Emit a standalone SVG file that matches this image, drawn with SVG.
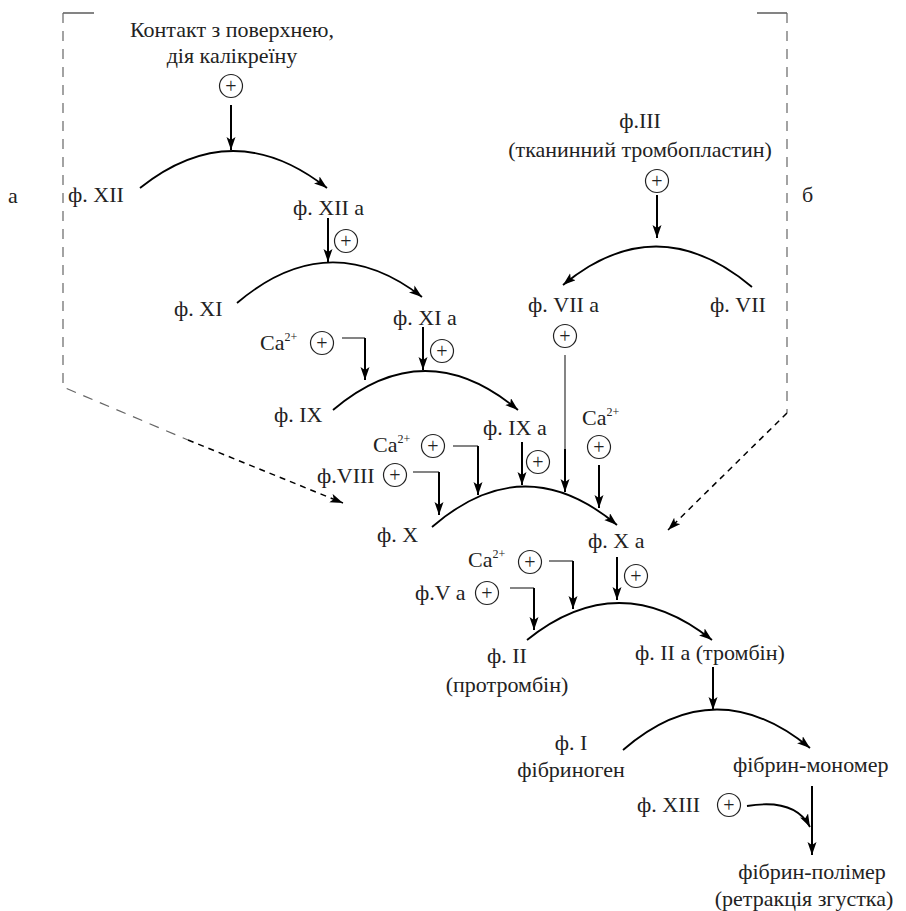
<svg xmlns="http://www.w3.org/2000/svg" width="906" height="911" viewBox="0 0 906 911">
<defs>
<marker id="ah" markerUnits="userSpaceOnUse" markerWidth="14" markerHeight="10" refX="13" refY="4.5" orient="auto">
<path d="M0,0 L13,4.5 L0,9 L3,4.5 z" fill="#000"/>
</marker>
</defs>
<style>
text{font-family:"Liberation Serif","Times New Roman",serif;font-size:22px;fill:#222}
.c{text-anchor:middle}
.sup{font-size:12px}
.pc circle{fill:none;stroke:#222;stroke-width:1.2}
.pc text{font-size:20px;text-anchor:middle}
.arc{fill:none;stroke:#000;stroke-width:1.8;marker-end:url(#ah)}
.ar{fill:none;stroke:#000;stroke-width:2;marker-end:url(#ah)}
.thin{fill:none;stroke:#333;stroke-width:1.2}
.dg{fill:none;stroke:#666;stroke-width:1.2;stroke-dasharray:10,8}
.db{fill:none;stroke:#000;stroke-width:1.5;stroke-dasharray:6,5}
</style>
<rect width="906" height="911" fill="#fff"/>

<g id="bracket-a">
<path d="M63,13 H94" class="thin"/>
<path d="M63,13 V387 L188,440" class="dg"/>
<text x="8" y="203">а</text>
</g>
<g id="bracket-b">
<path d="M757,13 H787" class="thin"/>
<path d="M787,13 V413" class="dg"/>
<text x="802" y="202">б</text>
</g>

<g id="n-contact">
<text class="c" x="232" y="37">Контакт з поверхнею,</text>
<text class="c" x="232" y="63">дія калікреїну</text>
<g class="pc"><circle cx="231" cy="86" r="11.5"/><text x="231" y="92.5">+</text></g>
</g>
<g id="n-XII"><text x="68" y="202">ф. XII</text></g>
<g id="n-XIIa"><text x="293" y="215">ф. XII а</text>
<g class="pc"><circle cx="346" cy="241" r="11.5"/><text x="346" y="247.5">+</text></g></g>
<g id="n-XI"><text x="174" y="316">ф. XI</text></g>
<g id="n-XIa"><text x="393" y="325">ф. XI а</text>
<g class="pc"><circle cx="442" cy="351" r="11.5"/><text x="442" y="357.5">+</text></g></g>
<g id="n-Ca1"><text x="260" y="350">Ca<tspan class="sup" dy="-9">2+</tspan></text>
<g class="pc"><circle cx="322" cy="343" r="11.5"/><text x="322" y="349.5">+</text></g></g>
<g id="n-IX"><text x="274" y="422">ф. IX</text></g>
<g id="n-IXa"><text x="483" y="435">ф. IX а</text>
<g class="pc"><circle cx="538" cy="462" r="11.5"/><text x="538" y="468.5">+</text></g></g>
<g id="n-Ca2"><text x="373" y="452">Ca<tspan class="sup" dy="-9">2+</tspan></text>
<g class="pc"><circle cx="433" cy="446" r="11.5"/><text x="433" y="452.5">+</text></g></g>
<g id="n-VIII"><text x="317" y="483">ф.VIII</text>
<g class="pc"><circle cx="395" cy="475" r="11.5"/><text x="395" y="481.5">+</text></g></g>
<g id="n-Ca3"><text x="582" y="425">Ca<tspan class="sup" dy="-9">2+</tspan></text>
<g class="pc"><circle cx="599" cy="447" r="11.5"/><text x="599" y="453.5">+</text></g></g>
<g id="n-X"><text x="377" y="542">ф. X</text></g>
<g id="n-Xa"><text x="588" y="548">ф. X а</text>
<g class="pc"><circle cx="636" cy="576" r="11.5"/><text x="636" y="582.5">+</text></g></g>
<g id="n-III">
<text class="c" x="640" y="128">ф.III</text>
<text class="c" x="640" y="157">(тканинний тромбопластин)</text>
<g class="pc"><circle cx="657" cy="181" r="11.5"/><text x="657" y="187.5">+</text></g>
</g>
<g id="n-VIIa"><text x="528" y="312">ф. VII а</text>
<g class="pc"><circle cx="565" cy="336" r="11.5"/><text x="565" y="342.5">+</text></g></g>
<g id="n-VII"><text x="710" y="312">ф. VII</text></g>
<g id="n-Ca4"><text x="468" y="567">Ca<tspan class="sup" dy="-9">2+</tspan></text>
<g class="pc"><circle cx="530" cy="562" r="11.5"/><text x="530" y="568.5">+</text></g></g>
<g id="n-Va"><text x="415" y="600">ф.V а</text>
<g class="pc"><circle cx="487" cy="593" r="11.5"/><text x="487" y="599.5">+</text></g></g>
<g id="n-II">
<text class="c" x="507" y="663">ф. II</text>
<text class="c" x="507" y="692">(протромбін)</text>
</g>
<g id="n-IIa"><text x="635" y="660">ф. II а (тромбін)</text></g>
<g id="n-I">
<text class="c" x="571" y="750">ф. I</text>
<text class="c" x="571" y="777">фібриноген</text>
</g>
<g id="n-fm"><text x="733" y="772">фібрин-мономер</text></g>
<g id="n-XIII"><text x="637" y="812">ф. XIII</text>
<g class="pc"><circle cx="729" cy="805" r="11.5"/><text x="729" y="811.5">+</text></g></g>
<g id="n-fp">
<text class="c" x="812" y="879">фібрин-полімер</text>
<text class="c" x="804" y="906">(ретракція згустка)</text>
</g>

<g id="connectors">
<path class="db" d="M188,440 L343,503" marker-end="url(#ah)"/>
<path class="db" d="M787,413 L668,530" marker-end="url(#ah)"/>

<path class="ar" d="M231,105 V150"/>
<path class="arc" d="M140,188 Q233,114 327,188"/>
<path class="ar" d="M328,218 V262"/>
<path class="arc" d="M237,303 Q329,225 422,297"/>
<path class="ar" d="M423,327 V370"/>
<path class="thin" d="M342,338 H365"/>
<path class="ar" d="M365,338 V380"/>
<path class="arc" d="M333,410 Q425,332 518,410"/>
<path class="ar" d="M522,442 V485"/>
<path class="thin" d="M453,446 H478"/>
<path class="ar" d="M478,446 V495"/>
<path class="thin" d="M413,472 H439"/>
<path class="ar" d="M439,472 V515"/>
<path class="thin" d="M565,355 V450"/>
<path class="ar" d="M565,449 V492"/>
<path class="ar" d="M599,465 V508"/>
<path class="arc" d="M432,527 Q524,447 617,525"/>
<path class="ar" d="M657,195 V238"/>
<path class="arc" d="M752,287 Q657,207 563,285"/>
<path class="ar" d="M617,557 V600"/>
<path class="thin" d="M549,561 H573"/>
<path class="ar" d="M573,561 V609"/>
<path class="thin" d="M510,588 H534"/>
<path class="ar" d="M534,588 V630"/>
<path class="arc" d="M527,640 Q619,566 712,640"/>
<path class="ar" d="M713,667 V710"/>
<path class="arc" d="M623,750 Q715,670 810,748"/>
<path class="ar" d="M812,786 V855"/>
<path class="arc" d="M747,806 Q795,798 810,827"/>
</g>
</svg>
